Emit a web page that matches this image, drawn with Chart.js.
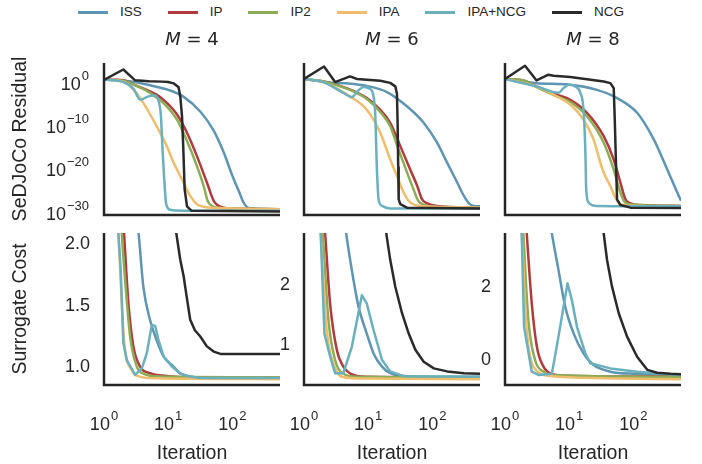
<!DOCTYPE html>
<html>
<head>
<meta charset="utf-8">
<script src="https://cdn.jsdelivr.net/npm/chart.js@4/dist/chart.umd.min.js"></script>
<style>
  body { margin: 0; background: #fff; width: 702px; height: 464px; overflow: hidden; position: relative; }
  canvas { position: absolute; }
  #legend { position: absolute; left: 0; top: 3px; width: 702px; display: flex; justify-content: center; gap: 26px;
            font: 13.5px "Liberation Sans", Arial, sans-serif; color: #262626; line-height: 18px; }
  #legend i { display: inline-block; width: 30px; height: 3px; vertical-align: middle; margin-right: 12px; }
</style>
</head>
<body>
<div id="legend"></div>
<script>
// series / legend
const seriesNames = ['ISS', 'IP', 'IP2', 'IPA', 'IPA+NCG', 'NCG'];
const seriesColors = ['#5e95b2', '#b23a3d', '#8cad55', '#eebd6d', '#6bb0be', '#2a2a2a'];
const mValues = [4, 6, 8];

// ticks
const xTickVals = [1, 10, 100];
const xTickExp = ['0', '1', '2'];
const resTickVals = [1, 1e-10, 1e-20, 1e-30];
const resTickExp = ['0', '\u221210', '\u221220', '\u221230'];
const cost4Ticks = [1.0, 1.5, 2.0];
const cost4Labels = ['1.0', '1.5', '2.0'];
const cost6Ticks = [1, 2];
const cost6Labels = ['1', '2'];
const cost8Ticks = [0, 2];
const cost8Labels = ['0', '2'];

// SeDJoCo residual, [iteration, residual]
const res4_ISS = [[1,1.6],[2,1],[3,0.5],[5,0.1],[10,8e-3],[17,2.5e-4],[32,6e-8],[51,3e-12],[73,3e-17],[100,1e-22],[126,3e-26],[150,6e-29],[180,4e-30],[550,2e-30]];
const res4_IP = [[1,2],[2,1.26],[2.9,0.126],[5.2,3.5e-3],[6.6,6.3e-4],[9.5,8e-6],[13.7,1.6e-8],[19.6,1e-12],[28,4e-18],[40,3.2e-24],[51,2e-28],[58,2e-29],[73,5e-30],[105,3.2e-30],[550,2.2e-30]];
const res4_IP2 = [[1,2],[2,1],[2.9,0.126],[5.2,1.6e-3],[9.5,1.26e-6],[13.7,1e-9],[19.6,1.26e-14],[28,2e-20],[35.6,5e-25],[41,2e-28],[48,1.26e-29],[65,4e-30],[550,2.2e-30]];
const res4_IPA = [[1,2],[2,0.63],[2.9,8e-3],[4.1,8e-6],[6.6,3.2e-11],[9.5,8e-16],[12.1,1.26e-19],[16.4,1.6e-23],[22,2.5e-27],[28,3.2e-29],[36,8e-30],[58,4e-30],[550,2.2e-30]];
const res4_IPANCG = [[1,2],[2,0.5],[2.9,1.26e-2],[3.65,4e-5],[4.9,2.5e-4],[6.3,4e-4],[7.1,2e-5],[7.7,6.3e-9],[8.15,1.26e-16],[8.7,6.3e-24],[9.3,3.2e-29],[10.7,1.6e-30],[17,1e-30],[550,1e-30]];
const res4_NCG = [[1,1.6],[2,400],[3.05,1.26],[5,0.8],[8,0.63],[10,0.5],[12.1,0.25],[14.5,3.2e-2],[15.5,1e-4],[16.4,6.3e-9],[17.2,1e-16],[18,1e-25],[19.6,1e-29],[23,1e-30],[550,6.3e-31]];

const res6_ISS = [[1,2.5],[2.55,0.4],[4.6,0.25],[9.5,6.3e-2],[19.6,2.5e-3],[40,1.26e-6],[73,2e-10],[118,5e-15],[169,1.26e-19],[243,3.2e-24],[309,2.5e-27],[370,5e-29],[442,1.26e-29],[550,1e-29]];
const res6_IP = [[1,2.5],[2,0.7],[4.6,2e-2],[9.5,1e-4],[15.4,2e-7],[22,2e-10],[31.6,8e-16],[45,3.2e-21],[58,5e-25],[69,4e-28],[83,5e-29],[118,1.26e-29],[550,5e-30]];
const res6_IP2 = [[1,2.5],[2,0.7],[4.6,1.6e-2],[9.5,6.3e-5],[15.4,6.3e-8],[22,3.2e-11],[29,3.2e-16],[41,3.2e-22],[52,3.2e-26],[60,2e-28],[72,2.5e-29],[100,8e-30],[550,5e-30]];
const res6_IPA = [[1,2.5],[2,0.5],[5.2,2.5e-4],[9.5,2e-7],[15.4,1e-12],[22,6.3e-19],[28,1e-22],[35.6,1.6e-26],[45,8e-29],[65,1.26e-29],[550,5e-30]];
const res6_IPANCG = [[1,2.5],[2,0.5],[4.1,1.6e-3],[5.55,1.8e-4],[7.06,6.3e-3],[8.45,3.5e-2],[10.7,1.26e-2],[12.1,2.5e-4],[12.9,6.3e-9],[13.6,2e-20],[14.5,4e-28],[16.4,1.26e-29],[22,3.2e-30],[550,3.2e-30]];
const res6_NCG = [[1,2.5],[2.05,2000],[3.05,0.5],[5.2,10],[6.7,2.5],[15.4,1],[22,0.32],[26.4,0.05],[28,1e-3],[28.7,1e-10],[29.3,1e-20],[29.8,4e-28],[31.6,3.2e-29],[40,5e-30],[550,3.2e-30]];

const res8_ISS = [[1,2.5],[3.1,0.28],[10.4,0.126],[27,8e-3],[55.6,1e-4],[114,4e-8],[208,2.5e-14],[336,3.2e-21],[481,1.6e-26],[550,2e-28]];
const res8_IP = [[1,2.5],[1.93,1.2],[3.1,5e-2],[6.4,6.3e-4],[10.4,4e-5],[18.9,4e-8],[34.4,1.6e-13],[49.3,6.3e-19],[62.6,3.2e-24],[75,4e-28],[89.8,5e-29],[129,2e-29],[550,1.26e-29]];
const res8_IP2 = [[1,2.5],[1.93,1.2],[3.1,3.5e-2],[6.4,2.5e-4],[10.4,1.26e-5],[18.9,6.3e-9],[34.4,5e-15],[49.3,3.2e-21],[62.6,1.6e-26],[70.6,2e-28],[84.6,3.2e-29],[550,1.26e-29]];
const res8_IPA = [[1,2.5],[3.1,5e-2],[6.4,2.5e-4],[10.4,3.2e-6],[16.7,1e-9],[24,2.5e-14],[30.5,1.26e-19],[34.4,6.3e-22],[43.7,5e-25],[52.3,1e-27],[62.6,3.2e-29],[114,1.26e-29],[550,1e-29]];
const res8_IPANCG = [[1,2.5],[3.1,5e-2],[6.8,1.6e-3],[8.15,2e-2],[9.8,0.126],[12.4,5e-2],[14.9,1.6e-3],[16.7,2e-7],[17.8,1.26e-16],[18.4,8e-26],[20,8e-29],[27,1.26e-29],[550,1e-29]];
const res8_NCG = [[1,2.5],[2.05,2800],[3.1,1.2],[4.75,25],[5.7,14],[10.4,7],[34.4,0.7],[43.7,0.28],[49.3,2e-2],[51,6.3e-9],[53.6,2e-20],[55.6,4e-28],[62.6,2e-29],[89.8,5e-30],[550,4e-30]];

// surrogate cost, [iteration, cost]
const cost4_ISS = [[3,2.3],[3.44,2.09],[4.1,1.65],[5.2,1.385],[6.6,1.22],[8.5,1.088],[12.1,1.007],[15.4,0.953],[22,0.926],[31.6,0.915],[550,0.915]];
const cost4_IP = [[1.8,2.6],[2.05,2.09],[2.4,1.52],[2.87,1.17],[3.65,1.007],[5.2,0.953],[9.5,0.931],[19.6,0.92],[550,0.918]];
const cost4_IP2 = [[1.7,2.6],[1.89,2.09],[2.13,1.71],[2.55,1.25],[3.24,1.007],[4.1,0.95],[7.5,0.926],[550,0.92]];
const cost4_IPA = [[1.5,2.5],[1.67,2.09],[2.05,1.22],[2.7,0.98],[3.65,0.926],[6.6,0.912],[550,0.905]];
const cost4_IPANCG = [[1.5,2.5],[1.67,2.09],[1.82,1.79],[2.0,1.2],[2.26,1.06],[3.05,0.94],[3.88,0.993],[4.64,1.115],[5.55,1.344],[6.26,1.336],[7.06,1.22],[8.5,1.088],[11.4,1.007],[15.4,0.95],[22,0.926],[31.6,0.915],[550,0.915]];
const cost4_NCG = [[12,2.4],[13.3,2.09],[15.4,1.87],[17.4,1.735],[19,1.6],[22,1.385],[26,1.3],[31.6,1.25],[40,1.17],[51,1.128],[65,1.109],[550,1.109]];

const cost6_ISS = [[4,3.3],[4.53,2.86],[5.55,2.25],[7.06,1.64],[9.5,1.19],[12.1,0.86],[16.4,0.64],[22,0.53],[40,0.48],[550,0.47]];
const cost6_IP = [[1.9,3.5],[2.13,2.86],[2.55,1.69],[3.24,0.92],[4.1,0.64],[5.9,0.5],[9.5,0.47],[550,0.46]];
const cost6_IP2 = [[1.8,3.4],[1.96,2.86],[2.4,1.42],[3.05,0.75],[4.1,0.52],[6.6,0.47],[550,0.46]];
const cost6_IPA = [[1.7,3.5],[1.82,2.86],[2.26,1.25],[2.87,0.69],[3.88,0.47],[8.45,0.44],[550,0.43]];
const cost6_IPANCG = [[1.7,3.5],[1.82,2.86],[2.08,1.19],[2.55,0.81],[3.05,0.53],[4.1,0.53],[5.55,0.97],[7.96,1.83],[9.5,1.69],[12.1,1.25],[16.4,0.75],[22,0.56],[35.6,0.48],[550,0.47]];
const cost6_NCG = [[17,3.2],[19.1,2.86],[22,2.42],[26.4,1.97],[33.6,1.53],[42.7,1.19],[54.2,0.92],[73,0.72],[105,0.61],[169,0.56],[309,0.53],[550,0.52]];

const cost8_ISS = [[4.5,4.3],[5.36,3.47],[6.8,2.47],[8.66,1.46],[11.7,0.73],[16.7,0.18],[24,-0.14],[43.7,-0.32],[114,-0.38],[550,-0.44]];
const cost8_IP = [[2,4.5],[2.18,3.47],[2.61,1.55],[3.13,0.37],[3.97,-0.18],[5.36,-0.38],[10.4,-0.43],[550,-0.46]];
const cost8_IP2 = [[1.8,4.5],[1.93,3.47],[2.31,1.1],[2.94,0],[3.97,-0.32],[5.36,-0.41],[550,-0.46]];
const cost8_IPA = [[1.7,4.5],[1.82,3.47],[2.18,0.82],[2.77,-0.18],[5.05,-0.44],[34.4,-0.5],[550,-0.53]];
const cost8_IPANCG = [[1.7,4.5],[1.82,3.47],[1.98,0.91],[2.61,-0.32],[3.32,-0.41],[5.36,-0.38],[6.8,0.64],[9.4,2.1],[11,1.64],[13.2,0.91],[17.8,0.18],[21.3,-0.09],[43.7,-0.23],[114,-0.32],[550,-0.41]];
const cost8_NCG = [[30,4.5],[34.4,3.47],[38.8,2.74],[46.4,2.01],[59,1.28],[79.6,0.64],[114,0.09],[164,-0.27],[234,-0.35],[378,-0.38],[550,-0.39]];

const resData = [
  [res4_ISS, res4_IP, res4_IP2, res4_IPA, res4_IPANCG, res4_NCG],
  [res6_ISS, res6_IP, res6_IP2, res6_IPA, res6_IPANCG, res6_NCG],
  [res8_ISS, res8_IP, res8_IP2, res8_IPA, res8_IPANCG, res8_NCG]
];
const costData = [
  [cost4_ISS, cost4_IP, cost4_IP2, cost4_IPA, cost4_IPANCG, cost4_NCG],
  [cost6_ISS, cost6_IP, cost6_IP2, cost6_IPA, cost6_IPANCG, cost6_NCG],
  [cost8_ISS, cost8_IP, cost8_IP2, cost8_IPA, cost8_IPANCG, cost8_NCG]
];

// layout
const ink = '#262626';
const FONT = '"Liberation Sans", Arial, sans-serif';
const colLeft = [104, 304, 505];
const rowTop = [63, 233];
const panelW = 176, panelH = 152;
const costRange = [[0.858, 2.086], [0.333, 2.867], [-0.685, 3.48]];
const costTicks = [[cost4Ticks, cost4Labels], [cost6Ticks, cost6Labels], [cost8Ticks, cost8Labels]];

// legend
const legend = document.getElementById('legend');
seriesNames.forEach((n, i) => {
  const s = document.createElement('span');
  s.innerHTML = `<i style="background:${seriesColors[i]}"></i>${n}`;
  legend.appendChild(s);
});

// "10^k" label
function powLabel(ctx, exp, x, baseY, align) {
  ctx.font = '18px ' + FONT;
  const wb = ctx.measureText('10').width;
  ctx.font = '13px ' + FONT;
  const we = ctx.measureText(exp).width + 1;
  const left = align === 'right' ? x - wb - we : x - (wb + we) / 2;
  ctx.textAlign = 'left';
  ctx.textBaseline = 'alphabetic';
  ctx.font = '18px ' + FONT;
  ctx.fillText('10', left, baseY);
  ctx.font = '13px ' + FONT;
  ctx.fillText(exp, left + wb + 1, baseY - 10);
}

// spines, ticks and labels
const frame = {
  id: 'frame',
  afterDraw(chart, args, o) {
    const ctx = chart.ctx, a = chart.chartArea;
    const sx = chart.scales.x, sy = chart.scales.y;
    ctx.save();
    ctx.strokeStyle = ink;
    ctx.lineWidth = 2.5;
    ctx.beginPath();
    ctx.moveTo(a.left, a.top);
    ctx.lineTo(a.left, a.bottom);
    ctx.lineTo(a.right, a.bottom);
    ctx.stroke();
    ctx.fillStyle = ink;

    if (o.logTicks) {
      resTickVals.forEach((v, i) => powLabel(ctx, resTickExp[i], a.left - 15, sy.getPixelForValue(v) + 9, 'right'));
    }
    if (o.ticks) {
      ctx.font = '18px ' + FONT;
      ctx.textAlign = 'right';
      ctx.textBaseline = 'middle';
      o.ticks[0].forEach((v, i) => ctx.fillText(o.ticks[1][i], a.left - 14, sy.getPixelForValue(v)));
    }
    if (o.xTicks) {
      xTickVals.forEach((v, i) => powLabel(ctx, xTickExp[i], sx.getPixelForValue(v), a.bottom + 45, 'center'));
      ctx.font = '19.5px ' + FONT;
      ctx.textAlign = 'center';
      ctx.textBaseline = 'middle';
      ctx.fillText('Iteration', (a.left + a.right) / 2, a.bottom + 69);
    }
    if (o.m) {
      ctx.textBaseline = 'alphabetic';
      ctx.textAlign = 'left';
      ctx.font = 'italic 18px "DejaVu Sans"';
      const wm = ctx.measureText('M').width;
      ctx.font = '18px "DejaVu Sans"';
      const rest = ' = ' + o.m;
      const wr = ctx.measureText(rest).width;
      const x0 = (a.left + a.right) / 2 - (wm + wr) / 2;
      ctx.font = 'italic 18px "DejaVu Sans"';
      ctx.fillText('M', x0, a.top - 18);
      ctx.font = '18px "DejaVu Sans"';
      ctx.fillText(rest, x0 + wm, a.top - 18);
    }
    if (o.yLabel) {
      ctx.translate(a.left - 83, (a.top + a.bottom) / 2);
      ctx.rotate(-Math.PI / 2);
      ctx.font = '19.5px ' + FONT;
      ctx.textAlign = 'center';
      ctx.textBaseline = 'middle';
      ctx.fillText(o.yLabel, 0, 0);
    }
    ctx.restore();
  }
};

function makePanel(row, col, sets, yScale, opts) {
  const L = colLeft[col], T = rowTop[row];
  const cl = col === 0 ? 0 : L - 70;
  const ct = row === 0 ? 20 : T - 10;
  const cr = L + panelW + 8;
  const cb = row === 1 ? 464 : T + panelH + 10;
  const cv = document.createElement('canvas');
  cv.width = cr - cl;
  cv.height = cb - ct;
  cv.style.left = cl + 'px';
  cv.style.top = ct + 'px';
  document.body.appendChild(cv);
  new Chart(cv, {
    type: 'line',
    data: {
      datasets: sets.map((pts, i) => ({
        label: seriesNames[i],
        data: pts.map(p => ({ x: p[0], y: p[1] })),
        borderColor: seriesColors[i],
        borderWidth: 2.5,
        borderJoinStyle: 'round',
        pointRadius: 0,
        tension: 0,
        // smooth curves; NCG and the cost IPA+NCG stay polylines
        cubicInterpolationMode: (i < 4 || (row === 0 && i === 4)) ? 'monotone' : 'default',
        fill: false,
        order: 5 - i
      }))
    },
    options: {
      responsive: false,
      animation: false,
      devicePixelRatio: 1,
      events: [],
      layout: { padding: { left: L - cl, top: T - ct, right: cr - L - panelW, bottom: cb - T - panelH } },
      scales: {
        x: { type: 'logarithmic', min: 1, max: 550, bounds: 'data', display: false },
        y: Object.assign({ bounds: 'data', display: false }, yScale)
      },
      plugins: { legend: { display: false }, tooltip: { enabled: false }, frame: opts }
    },
    plugins: [frame]
  });
}

mValues.forEach((m, c) => {
  makePanel(0, c, resData[c], { type: 'logarithmic', min: 1e-31, max: 12600 },
    { m: m, logTicks: c === 0, yLabel: c === 0 ? 'SeDJoCo Residual' : null });
  makePanel(1, c, costData[c], { type: 'linear', min: costRange[c][0], max: costRange[c][1] },
    { ticks: costTicks[c], xTicks: true, yLabel: c === 0 ? 'Surrogate Cost' : null });
});
</script>
</body>
</html>
